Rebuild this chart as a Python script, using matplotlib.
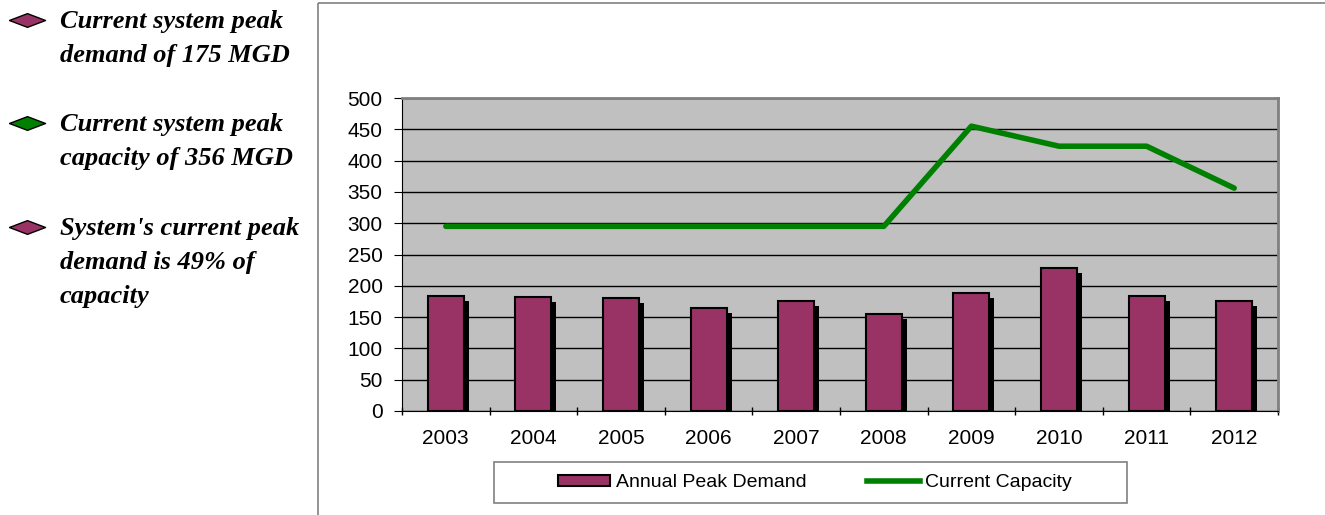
import matplotlib

matplotlib.use("Agg")
import matplotlib.pyplot as plt
from matplotlib.patches import Rectangle, Patch
from matplotlib.lines import Line2D
from matplotlib.transforms import ScaledTranslation

years = ["2003", "2004", "2005", "2006", "2007", "2008", "2009", "2010", "2011", "2012"]
peak_demand = [184, 182, 180, 165, 176, 155, 188, 228, 183, 176]
capacity = [295, 295, 295, 295, 295, 295, 455, 423, 423, 356]
notes = [
    "Current system peak\ndemand of 175 MGD",
    "Current system peak\ncapacity of 356 MGD",
    "System's current peak\ndemand is 49% of\ncapacity",
]
note_colors = ["#993366", "#008000", "#993366"]

BAR = "#993366"
LINE = "#008000"
BG = "#C0C0C0"
W, H = 1325, 515

fig = plt.figure(figsize=(W / 100, H / 100), dpi=100)

# overlay in pixel coordinates for frame, notes and legend box
ov = fig.add_axes([0, 0, 1, 1])
ov.set_xlim(0, W)
ov.set_ylim(H, 0)
ov.axis("off")
ov.add_patch(Rectangle((318, 3), 1100, 600, facecolor="none", edgecolor="#808080", lw=1.2))

diamond = [(-1, 0), (0, 0.38), (1, 0), (0, -0.38), (-1, 0)]
note_y = [20, 123, 227]
for txt, col, y in zip(notes, note_colors, note_y):
    ov.plot(27, y, marker=diamond, markersize=26, color=col, mec="black", mew=1)
    ov.text(60, y - 10, txt, fontsize=19, family="Liberation Serif", fontweight="bold",
            fontstyle="italic", va="top", ha="left", linespacing=1.62)

# main plot
ax = fig.add_axes([402 / W, (H - 411) / H, 876 / W, 313 / H])
ax.set_facecolor(BG)
x = list(range(len(years)))
shadow = ax.transData + ScaledTranslation(5 / 100, -5 / 100, fig.dpi_scale_trans)
ax.bar(x, peak_demand, width=0.41, color="black", transform=shadow, zorder=2)
ax.bar(x, peak_demand, width=0.41, color=BAR, edgecolor="black", linewidth=1.5, zorder=3)
ax.plot(x, capacity, color=LINE, lw=4, zorder=4, solid_capstyle="round")

ax.set_xlim(-0.5, len(years) - 0.5)
ax.set_ylim(0, 500)
ax.set_yticks(range(0, 501, 50))
ax.set_xticks(x)
ax.set_xticklabels(years)
ax.set_xticks([i + 0.5 for i in range(-1, len(years))], minor=True)
ax.tick_params(axis="x", which="major", length=0, pad=13, labelsize=15)
ax.tick_params(axis="x", which="minor", length=6, direction="inout", width=1)
ax.tick_params(axis="y", length=6, direction="out", labelsize=15, pad=8)
for lab in ax.get_xticklabels() + ax.get_yticklabels():
    lab.set_family("Liberation Sans")
ax.grid(axis="y", color="black", lw=1, zorder=1)
ax.set_axisbelow(True)
for side in ["top", "right"]:
    ax.spines[side].set_color("#808080")
    ax.spines[side].set_linewidth(2)
ax.spines["left"].set_color("black")
ax.spines["bottom"].set_color("black")

# legend
ov.add_patch(Rectangle((494, 462), 633, 41, facecolor="white", edgecolor="#808080", lw=1.2))
handles = [
    Patch(facecolor=BAR, edgecolor="black", linewidth=1.5),
    Line2D([], [], color=LINE, lw=4),
]
leg = fig.legend(handles, ["Annual Peak Demand", "Current Capacity"], ncol=2,
                 loc="center", bbox_to_anchor=(815 / W, 1 - 482.5 / H), frameon=False,
                 prop={"family": "Liberation Sans", "size": 14}, handlelength=2.7,
                 handleheight=0.5, handletextpad=0.3, columnspacing=3.1)

fig.savefig("out.png", dpi=100)
